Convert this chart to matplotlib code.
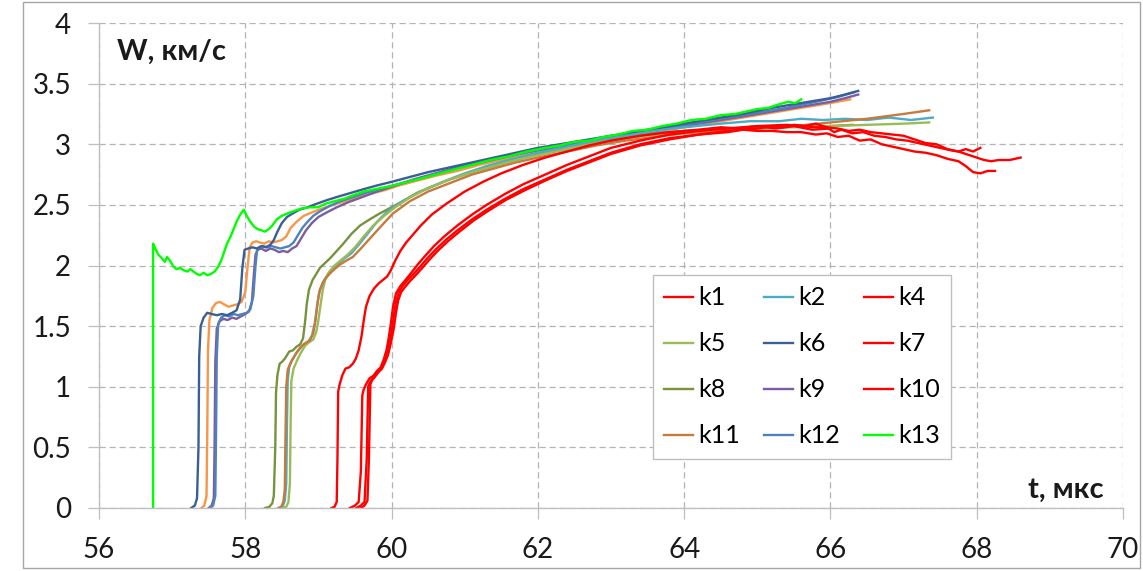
import matplotlib
matplotlib.use("Agg")
import matplotlib.pyplot as plt
from matplotlib.patches import Rectangle
from matplotlib.ticker import FuncFormatter, MultipleLocator

plt.rcParams["font.family"] = ["Lato", "Open Sans", "DejaVu Sans"]

# velocity profiles W(t) for each gauge, t in мкс, W in км/с
k13_t = [56.74, 56.74, 56.77, 56.81, 56.86, 56.90, 56.93, 56.97, 57.02, 57.06, 57.11, 57.16,
         57.21, 57.25, 57.29, 57.34, 57.38, 57.43, 57.48, 57.53, 57.58, 57.63, 57.67, 57.71,
         57.75, 57.80, 57.84, 57.88, 57.93, 57.98, 58.02, 58.07, 58.12, 58.17, 58.22, 58.27,
         58.32, 58.37, 58.43, 58.50, 58.58, 58.67, 58.77, 58.88, 58.99, 59.10, 59.22, 59.35,
         59.48, 59.62, 59.78, 59.95, 60.15, 60.35, 60.6, 60.85, 61.1, 61.35, 61.6, 61.85,
         62.1, 62.3, 62.5, 62.7, 62.9, 63.1, 63.3, 63.5, 63.7, 63.9, 64.1, 64.3,
         64.5, 64.7, 64.85, 65.0, 65.15, 65.3, 65.42, 65.52, 65.6]
k13_w = [0.0, 2.18, 2.14, 2.09, 2.06, 2.03, 2.07, 2.04, 1.99, 1.97, 1.98, 1.96,
         1.95, 1.97, 1.95, 1.93, 1.92, 1.94, 1.92, 1.93, 1.95, 1.99, 2.04, 2.11,
         2.18, 2.24, 2.30, 2.36, 2.42, 2.46, 2.41, 2.36, 2.32, 2.30, 2.29, 2.28,
         2.30, 2.33, 2.38, 2.41, 2.43, 2.45, 2.47, 2.48, 2.48, 2.51, 2.53, 2.55,
         2.58, 2.61, 2.63, 2.65, 2.68, 2.71, 2.75, 2.79, 2.83, 2.87, 2.90, 2.94,
         2.97, 2.99, 3.02, 3.03, 3.06, 3.08, 3.11, 3.12, 3.15, 3.17, 3.20, 3.21,
         3.24, 3.25, 3.27, 3.29, 3.30, 3.33, 3.35, 3.34, 3.37]

k6_t = [57.26, 57.31, 57.34, 57.36, 57.37, 57.39, 57.43, 57.48, 57.54, 57.61, 57.68, 57.75,
        57.82, 57.88, 57.93, 57.96, 57.99, 58.04, 58.10, 58.16, 58.22, 58.28, 58.34, 58.39,
        58.44, 58.50, 58.57, 58.65, 58.74, 58.85, 58.98, 59.12, 59.28, 59.45, 59.62, 59.80,
        60.0, 60.25, 60.5, 60.8, 61.1, 61.4, 61.7, 62.0, 62.4, 62.8, 63.2, 63.6, 64.0,
        64.4, 64.8, 65.2, 65.6, 66.0, 66.2, 66.38]
k6_w = [0.0, 0.02, 0.08, 0.5, 1.25, 1.50, 1.57, 1.61, 1.60, 1.59, 1.60, 1.59,
        1.61, 1.63, 1.72, 1.98, 2.13, 2.14, 2.15, 2.14, 2.16, 2.15, 2.17, 2.21,
        2.28, 2.35, 2.40, 2.43, 2.46, 2.48, 2.51, 2.54, 2.57, 2.60, 2.63, 2.66,
        2.69, 2.73, 2.77, 2.81, 2.85, 2.89, 2.93, 2.97, 3.01, 3.05, 3.09, 3.13, 3.17,
        3.21, 3.25, 3.30, 3.34, 3.38, 3.41, 3.44]

k3_t = [57.40, 57.44, 57.47, 57.48, 57.49, 57.51, 57.55, 57.60, 57.65, 57.71, 57.77, 57.83,
        57.89, 57.95, 58.00, 58.03, 58.06, 58.10, 58.15, 58.20, 58.26, 58.32, 58.38, 58.44,
        58.50, 58.56, 58.62, 58.70, 58.80, 58.92, 59.05, 59.20, 59.36, 59.52, 59.70, 59.90,
        60.1, 60.35, 60.6, 60.9, 61.2, 61.5, 61.8, 62.1, 62.5, 62.9, 63.3, 63.7, 64.1,
        64.5, 64.9, 65.3, 65.7, 66.0, 66.27]
k3_w = [0.0, 0.02, 0.1, 0.6, 1.30, 1.55, 1.65, 1.69, 1.70, 1.68, 1.66, 1.67,
        1.68, 1.70, 1.78, 1.98, 2.15, 2.19, 2.20, 2.19, 2.18, 2.20, 2.19, 2.20,
        2.21, 2.24, 2.31, 2.36, 2.41, 2.44, 2.47, 2.50, 2.53, 2.56, 2.59, 2.62,
        2.66, 2.70, 2.74, 2.78, 2.83, 2.87, 2.91, 2.95, 2.99, 3.03, 3.07, 3.11, 3.15,
        3.19, 3.23, 3.27, 3.31, 3.34, 3.37]

k9_t = [57.50, 57.54, 57.57, 57.58, 57.59, 57.61, 57.65, 57.70, 57.76, 57.82, 57.88, 57.94,
        58.00, 58.05, 58.09, 58.12, 58.14, 58.17, 58.22, 58.28, 58.34, 58.40, 58.46, 58.52,
        58.58, 58.64, 58.70, 58.76, 58.83, 58.91, 59.00, 59.12, 59.25, 59.40, 59.58, 59.80,
        60.05, 60.3, 60.6, 60.9, 61.2, 61.5, 61.8, 62.1, 62.5, 62.9, 63.3, 63.7, 64.1,
        64.5, 64.9, 65.3, 65.7, 66.0, 66.2, 66.38]
k9_w = [0.0, 0.02, 0.08, 0.5, 1.2, 1.48, 1.54, 1.56, 1.55, 1.57, 1.56, 1.58,
        1.60, 1.62, 1.70, 1.95, 2.09, 2.13, 2.14, 2.12, 2.14, 2.13, 2.11, 2.12,
        2.11, 2.14, 2.16, 2.22, 2.29, 2.35, 2.40, 2.44, 2.48, 2.52, 2.56, 2.61,
        2.66, 2.71, 2.76, 2.81, 2.85, 2.89, 2.93, 2.96, 3.00, 3.04, 3.08, 3.12, 3.16,
        3.20, 3.24, 3.28, 3.32, 3.35, 3.38, 3.41]

k12_t = [57.52, 57.56, 57.59, 57.60, 57.61, 57.63, 57.67, 57.72, 57.78, 57.84, 57.90, 57.96,
         58.02, 58.07, 58.11, 58.14, 58.16, 58.19, 58.24, 58.30, 58.36, 58.42, 58.48, 58.54,
         58.60, 58.66, 58.72, 58.78, 58.85, 58.93, 59.03, 59.15, 59.30, 59.45, 59.65, 59.90,
         60.15, 60.4, 60.7, 61.0, 61.3, 61.6, 61.9, 62.2, 62.6, 63.0, 63.4, 63.8, 64.2,
         64.6, 65.0, 65.4, 65.8, 66.1, 66.33]
k12_w = [0.0, 0.02, 0.1, 0.6, 1.25, 1.52, 1.57, 1.59, 1.58, 1.60, 1.59, 1.60,
         1.61, 1.64, 1.75, 2.00, 2.12, 2.15, 2.16, 2.15, 2.16, 2.15, 2.14, 2.15,
         2.16, 2.19, 2.25, 2.31, 2.36, 2.41, 2.45, 2.49, 2.53, 2.56, 2.60, 2.64,
         2.68, 2.72, 2.77, 2.82, 2.86, 2.90, 2.94, 2.98, 3.02, 3.06, 3.10, 3.14, 3.18,
         3.22, 3.26, 3.30, 3.35, 3.39, 3.43]

k8_t = [58.27, 58.33, 58.37, 58.39, 58.41, 58.42, 58.44, 58.47, 58.51, 58.55, 58.60, 58.65,
        58.70, 58.75, 58.79, 58.82, 58.84, 58.87, 58.92, 58.97, 59.02, 59.09, 59.16, 59.25,
        59.34, 59.45, 59.57, 59.70, 59.84, 60.00, 60.15, 60.35, 60.55, 60.80, 61.10, 61.40,
        61.70, 62.00, 62.40, 62.80, 63.20, 63.60, 64.00, 64.50, 65.00, 65.50, 66.00, 66.30]
k8_w = [0.0, 0.01, 0.04, 0.1, 0.5, 0.95, 1.10, 1.19, 1.21, 1.24, 1.29, 1.30,
        1.33, 1.35, 1.40, 1.55, 1.68, 1.80, 1.88, 1.93, 1.98, 2.02, 2.06, 2.12,
        2.18, 2.26, 2.33, 2.38, 2.43, 2.48, 2.53, 2.60, 2.65, 2.71, 2.77, 2.82,
        2.87, 2.92, 2.96, 3.01, 3.05, 3.09, 3.11, 3.13, 3.14, 3.15, 3.15, 3.16]

k11_t = [58.45, 58.49, 58.52, 58.54, 58.55, 58.56, 58.58, 58.62, 58.66, 58.71, 58.76, 58.82,
         58.88, 58.93, 58.96, 58.99, 59.02, 59.08, 59.15, 59.22, 59.30, 59.38, 59.47, 59.58,
         59.70, 59.85, 60.02, 60.25, 60.50, 60.80, 61.10, 61.40, 61.70, 62.00, 62.40, 62.80,
         63.20, 63.60, 64.00, 64.50, 65.00, 65.50, 66.00, 66.50, 67.00, 67.35]
k11_w = [0.0, 0.01, 0.05, 0.15, 0.6, 1.0, 1.14, 1.20, 1.24, 1.29, 1.33, 1.36,
         1.38, 1.44, 1.55, 1.70, 1.80, 1.88, 1.93, 1.97, 2.01, 2.04, 2.07, 2.14,
         2.22, 2.32, 2.43, 2.53, 2.61, 2.68, 2.75, 2.80, 2.85, 2.89, 2.94, 2.99,
         3.03, 3.06, 3.09, 3.11, 3.13, 3.15, 3.18, 3.21, 3.25, 3.28]

k2_t = [58.47, 58.51, 58.54, 58.56, 58.57, 58.58, 58.60, 58.64, 58.69, 58.74, 58.80, 58.86,
        58.91, 58.95, 58.98, 59.01, 59.06, 59.13, 59.20, 59.28, 59.36, 59.45, 59.55, 59.67,
        59.80, 59.95, 60.15, 60.40, 60.70, 61.00, 61.30, 61.60, 62.00, 62.40, 62.80, 63.20,
        63.60, 64.00, 64.50, 64.9, 65.3, 65.6, 65.9, 66.2, 66.5, 66.8, 67.1, 67.40]
k2_w = [0.0, 0.01, 0.06, 0.2, 0.7, 1.05, 1.16, 1.22, 1.27, 1.31, 1.35, 1.37,
        1.42, 1.52, 1.66, 1.78, 1.86, 1.92, 1.97, 2.02, 2.06, 2.10, 2.17, 2.26,
        2.36, 2.45, 2.53, 2.61, 2.69, 2.76, 2.82, 2.87, 2.93, 2.98, 3.03, 3.07,
        3.11, 3.14, 3.17, 3.19, 3.19, 3.21, 3.20, 3.21, 3.20, 3.22, 3.20, 3.22]

k5_t = [58.52, 58.56, 58.59, 58.61, 58.62, 58.63, 58.66, 58.71, 58.76, 58.82, 58.88, 58.93,
        58.97, 59.00, 59.03, 59.06, 59.10, 59.15, 59.22, 59.30, 59.40, 59.50, 59.62, 59.75,
        59.90, 60.05, 60.25, 60.50, 60.80, 61.10, 61.40, 61.70, 62.00, 62.40, 62.80, 63.20,
        63.60, 64.00, 64.50, 65.00, 65.50, 66.00, 66.50, 67.00, 67.35]
k5_w = [0.0, 0.01, 0.05, 0.2, 0.7, 1.05, 1.15, 1.22, 1.28, 1.34, 1.37, 1.39,
        1.45, 1.55, 1.68, 1.80, 1.90, 1.95, 2.00, 2.04, 2.09, 2.15, 2.24, 2.33,
        2.41, 2.48, 2.56, 2.64, 2.71, 2.77, 2.82, 2.87, 2.91, 2.96, 3.01, 3.05,
        3.08, 3.10, 3.12, 3.13, 3.14, 3.15, 3.16, 3.17, 3.18]

k1_t = [59.18, 59.22, 59.25, 59.26, 59.27, 59.29, 59.33, 59.37, 59.42, 59.47, 59.51, 59.55,
        59.59, 59.62, 59.65, 59.70, 59.76, 59.82, 59.88, 59.94, 59.99, 60.05, 60.12, 60.20,
        60.30, 60.40, 60.55, 60.75, 61.00, 61.25, 61.50, 61.80, 62.10, 62.40, 62.70, 63.00,
        63.40, 63.80, 64.20, 64.50, 64.75, 65.0, 65.25, 65.5, 65.75, 66.00]
k1_w = [0.0, 0.01, 0.05, 0.4, 0.96, 1.02, 1.10, 1.15, 1.16, 1.19, 1.23, 1.30,
        1.42, 1.55, 1.66, 1.75, 1.81, 1.85, 1.88, 1.91, 1.96, 2.04, 2.12, 2.19,
        2.26, 2.33, 2.42, 2.51, 2.61, 2.69, 2.76, 2.83, 2.89, 2.94, 2.99, 3.03,
        3.07, 3.10, 3.12, 3.14, 3.13, 3.15, 3.13, 3.15, 3.12, 3.13]

k4_t = [59.43, 59.50, 59.55, 59.58, 59.60, 59.62, 59.66, 59.70, 59.75, 59.80, 59.85, 59.89,
        59.93, 59.96, 59.99, 60.02, 60.06, 60.12, 60.19, 60.27, 60.36, 60.46, 60.58, 60.72,
        60.90, 61.10, 61.30, 61.55, 61.80, 62.10, 62.40, 62.70, 63.00, 63.40, 63.80, 64.20,
        64.60, 65.00, 65.40, 65.60, 65.80, 65.95, 66.05, 66.15, 66.30, 66.45, 66.60, 66.75,
        66.90, 67.05, 67.20, 67.35, 67.50, 67.65, 67.75, 67.85, 67.95, 68.05]
k4_w = [0.0, 0.02, 0.05, 0.3, 0.93, 0.98, 1.03, 1.07, 1.09, 1.13, 1.16, 1.22,
        1.30, 1.40, 1.52, 1.66, 1.77, 1.83, 1.88, 1.94, 2.01, 2.08, 2.16, 2.24,
        2.33, 2.42, 2.50, 2.59, 2.67, 2.75, 2.83, 2.90, 2.97, 3.03, 3.08, 3.11,
        3.13, 3.15, 3.16, 3.15, 3.14, 3.14, 3.10, 3.12, 3.09, 3.10, 3.07, 3.06,
        3.04, 3.03, 3.01, 2.99, 2.97, 2.95, 2.94, 2.96, 2.94, 2.97]

k7_t = [59.52, 59.58, 59.63, 59.66, 59.68, 59.70, 59.74, 59.79, 59.84, 59.88, 59.92, 59.96,
        60.00, 60.03, 60.06, 60.10, 60.15, 60.22, 60.30, 60.39, 60.49, 60.60, 60.74, 60.90,
        61.10, 61.30, 61.55, 61.80, 62.10, 62.40, 62.70, 63.00, 63.40, 63.80, 64.20, 64.60,
        64.80, 65.00, 65.20, 65.40, 65.60, 65.80, 65.95, 66.10, 66.25, 66.40, 66.55, 66.70,
        66.85, 67.00, 67.15, 67.30, 67.45, 67.60, 67.75, 67.85, 67.95, 68.05, 68.15, 68.25]
k7_w = [0.0, 0.02, 0.05, 0.4, 1.0, 1.03, 1.07, 1.10, 1.14, 1.18, 1.24, 1.33,
        1.45, 1.58, 1.70, 1.78, 1.83, 1.88, 1.93, 1.99, 2.06, 2.13, 2.21, 2.29,
        2.38, 2.46, 2.55, 2.63, 2.71, 2.79, 2.86, 2.93, 3.00, 3.05, 3.08, 3.10,
        3.12, 3.11, 3.11, 3.10, 3.10, 3.08, 3.09, 3.06, 3.07, 3.03, 3.04, 3.00,
        2.98, 2.96, 2.94, 2.93, 2.91, 2.88, 2.86, 2.82, 2.77, 2.76, 2.78, 2.78]

k10_t = [59.58, 59.63, 59.67, 59.69, 59.71, 59.73, 59.77, 59.82, 59.87, 59.91, 59.95, 59.99,
         60.03, 60.06, 60.09, 60.13, 60.18, 60.25, 60.33, 60.42, 60.52, 60.63, 60.77, 60.93,
         61.12, 61.32, 61.56, 61.82, 62.10, 62.40, 62.70, 63.00, 63.40, 63.80, 64.20, 64.60,
         65.00, 65.20, 65.35, 65.50, 65.65, 65.80, 65.95, 66.10, 66.25, 66.40, 66.55, 66.70,
         66.85, 67.00, 67.15, 67.30, 67.45, 67.60, 67.75, 67.90, 68.00, 68.10, 68.20, 68.30,
         68.45, 68.60]
k10_w = [0.0, 0.02, 0.06, 0.4, 1.02, 1.05, 1.08, 1.12, 1.15, 1.20, 1.26, 1.36,
         1.48, 1.61, 1.71, 1.78, 1.82, 1.87, 1.92, 1.98, 2.05, 2.12, 2.20, 2.28,
         2.37, 2.45, 2.54, 2.62, 2.70, 2.78, 2.85, 2.92, 2.99, 3.04, 3.08, 3.11,
         3.13, 3.15, 3.14, 3.16, 3.15, 3.17, 3.14, 3.13, 3.11, 3.12, 3.10, 3.09,
         3.08, 3.07, 3.04, 3.01, 3.00, 2.96, 2.94, 2.91, 2.89, 2.87, 2.86, 2.87,
         2.87, 2.89]

# name, t, w, colour, shown in legend
series = [
    ("k3", k3_t, k3_w, "#F79646", False),
    ("k9", k9_t, k9_w, "#7B5E9E", True),
    ("k12", k12_t, k12_w, "#4F81BD", True),
    ("k6", k6_t, k6_w, "#3A5F96", True),
    ("k8", k8_t, k8_w, "#77933C", True),
    ("k2", k2_t, k2_w, "#4BACC6", True),
    ("k5", k5_t, k5_w, "#9BBB59", True),
    ("k11", k11_t, k11_w, "#C67A3C", True),
    ("k1", k1_t, k1_w, "#FF0000", True),
    ("k4", k4_t, k4_w, "#FF0000", True),
    ("k7", k7_t, k7_w, "#FF0000", True),
    ("k10", k10_t, k10_w, "#FF0000", True),
    ("k13", k13_t, k13_w, "#00FF00", True),
]
legend_order = ["k1", "k5", "k8", "k11", "k2", "k6", "k9", "k12", "k4", "k7", "k10", "k13"]

W_PX, H_PX = 1143, 571
fig = plt.figure(figsize=(W_PX / 100, H_PX / 100), dpi=100)
ax = fig.add_axes([99 / W_PX, 63 / H_PX, 1024 / W_PX, 485 / H_PX])

handles = {}
for name, t, w, col, shown in series:
    (ln,) = ax.plot(t, w, color=col, lw=1.7, label=name if shown else "_" + name,
                    solid_joinstyle="round")
    handles[name] = ln

ax.set_xlim(56, 70)
ax.set_ylim(0, 4)
ax.xaxis.set_major_locator(MultipleLocator(2))
ax.yaxis.set_major_locator(MultipleLocator(0.5))
ax.yaxis.set_major_formatter(FuncFormatter(lambda v, p: f"{v:g}"))
ax.grid(True, color="#B4B4B4", lw=0.9, linestyle=(0, (5, 3)))
ax.set_axisbelow(True)
for side in ("top", "right"):
    ax.spines[side].set_visible(False)
for side in ("left", "bottom"):
    ax.spines[side].set_color("#BFBFBF")
    ax.spines[side].set_linewidth(1)
ax.tick_params(axis="both", direction="out", length=8, width=0.9, color="#BFBFBF",
               labelsize=20, labelcolor="#1A1A1A")
ax.tick_params(axis="x", pad=13)
ax.tick_params(axis="y", pad=12)

ax.text(56.25, 3.70, "W, км/с", fontsize=21, fontweight="bold", color="#1A1A1A",
        ha="left", va="baseline")
ax.text(69.73, 0.08, "t, мкс", fontsize=21, fontweight="bold", color="#1A1A1A",
        ha="right", va="baseline")

leg = ax.legend([handles[n] for n in legend_order], legend_order, ncol=3,
                loc="upper left", bbox_to_anchor=(0.541, 0.4804), fontsize=18,
                frameon=True, fancybox=False, framealpha=1, edgecolor="#BFBFBF",
                handlelength=1.15, handletextpad=0.2, columnspacing=0.98,
                labelspacing=0.92, borderpad=0.45, borderaxespad=0)
leg.get_frame().set_linewidth(1)

fig.patches.append(Rectangle((23 / W_PX, 3 / H_PX), (1140 - 23) / W_PX, (569 - 3) / H_PX,
                             transform=fig.transFigure, fill=False,
                             edgecolor="#A6A6A6", lw=1))

fig.savefig("out.png", dpi=100)
